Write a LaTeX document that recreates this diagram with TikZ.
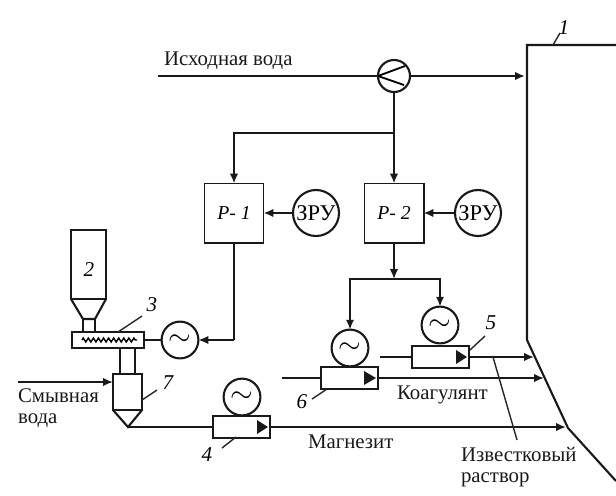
\documentclass[tikz,border=0pt]{standalone}
\usepackage{fontspec}
\setmainfont{Liberation Serif}
\usetikzlibrary{arrows.meta,decorations.pathmorphing}
\begin{document}
\begin{tikzpicture}[
    x=0.025cm, y=-0.025cm,
    font=\fontsize{14.8}{14.4}\selectfont,
    line width=1.5pt,
    pipe/.style={draw=black!90, line width=1.5pt},
    flow/.style={pipe, -{Latex[length=7pt,width=6pt]}},
    leader/.style={draw=black!85, line width=1pt},
    basin/.style={draw=black!90, line width=1.5pt, line join=miter},
    tankbox/.style={
        rectangle, draw=black!90, line width=1.4pt, fill=white,
        minimum size=1.475cm, inner sep=0pt, outer sep=0pt,
        font=\fontsize{14}{14}\selectfont\itshape
    },
    dosebox/.style={
        rectangle, draw=black!90, line width=1.4pt, fill=white,
        minimum width=1.425cm, minimum height=0.53cm,
        inner sep=0pt, outer sep=0pt
    },
    motor/.style={
        circle, draw=black!90, line width=1.5pt, fill=white,
        minimum size=0.92cm, inner sep=0pt, outer sep=0pt,
        font=\fontsize{20}{20}\selectfont
    },
    zru/.style={
        circle, draw=black!90, line width=1.5pt, fill=white,
        minimum size=1.15cm, inner sep=0pt, outer sep=0pt,
        font=\fontsize{16}{16}\selectfont
    },
    numlbl/.style={font=\fontsize{15}{15}\selectfont\itshape, inner sep=0pt},
    txtlbl/.style={anchor=west, inner sep=0pt, align=left, text=black!90}
]
\useasboundingbox (0,0) rectangle (616,495);

%% Sediment tank wall
\draw[basin] (616,45) -- (527,45) -- (527,340) -- (568,428) -- (616,481);
\coordinate (wall0) at (525,76);
\coordinate (wall1) at (534,357);
\coordinate (wall2) at (544,378);
\coordinate (wall3) at (566,427);

%% Raw water line
\node[circle, draw=black!90, line width=1.5pt, minimum size=0.8cm, inner sep=0pt, outer sep=0pt] (valve) at (394,76) {};
\draw[line width=1.3pt] (valve.west) -- (405,66);
\draw[line width=1.3pt] (valve.west) -- (404,85);
\coordinate (raw) at (158,76);
\coordinate (split) at (394,133);
\draw[pipe] (raw) -- (valve);
\draw[flow] (valve) -- (wall0);
\node[txtlbl] (rawlbl) at (163,61) {Исходная вода};

%% Reagent tanks
\node[tankbox] (p1) at (234,213) {P- 1};
\node[tankbox] (p2) at (394,213) {P- 2};
\node[zru] (zru1) at (316,213) {ЗРУ};
\node[zru] (zru2) at (478,213) {ЗРУ};
\draw[flow] (zru1) -- (p1);
\draw[flow] (zru2) -- (p2);
\draw[flow] (valve) -- (p2);
\draw[flow] (split) -| (p1);

%% Hopper and screw feeder
\node[numlbl] (lbl2) at (89,270) {2};
\draw[basin] (71,299) -- (71,230) -- (106,230) -- (106,299) -- cycle;
\draw[basin] (71,299) -- (83,319) -- (95,319) -- (106,299);
\draw[basin] (83,319) -- (83,332);
\draw[basin] (95,319) -- (95,332);
\draw[basin] (120,348) -- (120,374);
\draw[basin] (135,348) -- (135,374);
\node[rectangle, draw=black!90, line width=1.4pt, minimum width=1.8cm, minimum height=0.4cm, inner sep=0pt, outer sep=0pt] (screw) at (108,340) {};
\draw[line width=1pt, decorate, decoration={zigzag, amplitude=1.4pt, segment length=3.6pt}] (82,340) -- (137,340);
\node[motor] (m3) at (180,340) {$\sim$};
\draw[pipe] (screw) -- (m3);
\coordinate (bend1) at (234,340);
\draw[pipe] (p1) -- (bend1);
\draw[flow] (bend1) -- (m3);

%% Mixing funnel
\node[rectangle, draw=black!90, line width=1.4pt, minimum width=0.725cm, minimum height=0.9cm, inner sep=0pt, outer sep=0pt] (mixer) at (127.5,392) {};
\draw[basin] (mixer.south west) -- (128,427) -- (mixer.south east);
\coordinate (tip) at (128,427);
\coordinate (flush) at (18,382);
\draw[flow] (flush) -- (flush -| mixer.west);
\node[txtlbl] (flushlbl) at (17,408) {Смывная\\вода};

%% Dosing pumps
\node[dosebox] (d4) at (241.5,427) {};
\node[dosebox] (d6) at (349.5,378) {};
\node[dosebox] (d5) at (440.5,357) {};
\fill[black!90] (257,420) -- (268,427) -- (257,434) -- cycle;
\fill[black!90] (364,371) -- (376,378) -- (364,385) -- cycle;
\fill[black!90] (456,350) -- (467,357) -- (456,364) -- cycle;
\node[motor] (m4) at (242,397) {$\sim$};
\node[motor] (m6) at (350,348) {$\sim$};
\node[motor] (m5) at (440,325) {$\sim$};
\coordinate (in6) at (282,378);
\coordinate (in5) at (380,357);
\draw[pipe] (tip) -- (d4);
\draw[flow] (d4) -- (wall3);
\draw[pipe] (in6) -- (d6);
\draw[flow] (d6) -- (wall2);
\draw[pipe] (in5) -- (d5);
\draw[flow] (d5) -- (wall1);
\node[txtlbl] (coaglbl) at (396,395) {Коагулянт};
\node[txtlbl] (maglbl) at (307,442) {Магнезит};

%% Branch from R-2
\coordinate (fork) at (394,279);
\draw[flow] (p2) -- (fork);
\draw[flow] (fork) -| (m6);
\draw[flow] (fork) -| (m5);

%% Position numbers
\node[numlbl] (lbl1) at (564,28) {1};
\node[numlbl] (lbl3) at (152,305) {3};
\node[numlbl] (lbl4) at (207,455) {4};
\node[numlbl] (lbl5) at (491,323) {5};
\node[numlbl] (lbl6) at (302,402) {6};
\node[numlbl] (lbl7) at (168,383) {7};
\draw[leader] (553,45) -- (560,33);
\draw[leader] (118,332) -- (142,316);
\draw[leader] (222,448) -- (236,437);
\draw[leader] (470,350) -- (485,336);
\draw[leader] (312,399) -- (327,389);
\draw[leader] (142,400) -- (157,390);

%% Lime solution
\coordinate (limetop) at (493,357);
\coordinate (limeend) at (517,440);
\draw[leader] (limetop) -- (limeend);
\node[txtlbl] (limelbl) at (460,467) {Известковый\\раствор};

\end{tikzpicture}
\end{document}
